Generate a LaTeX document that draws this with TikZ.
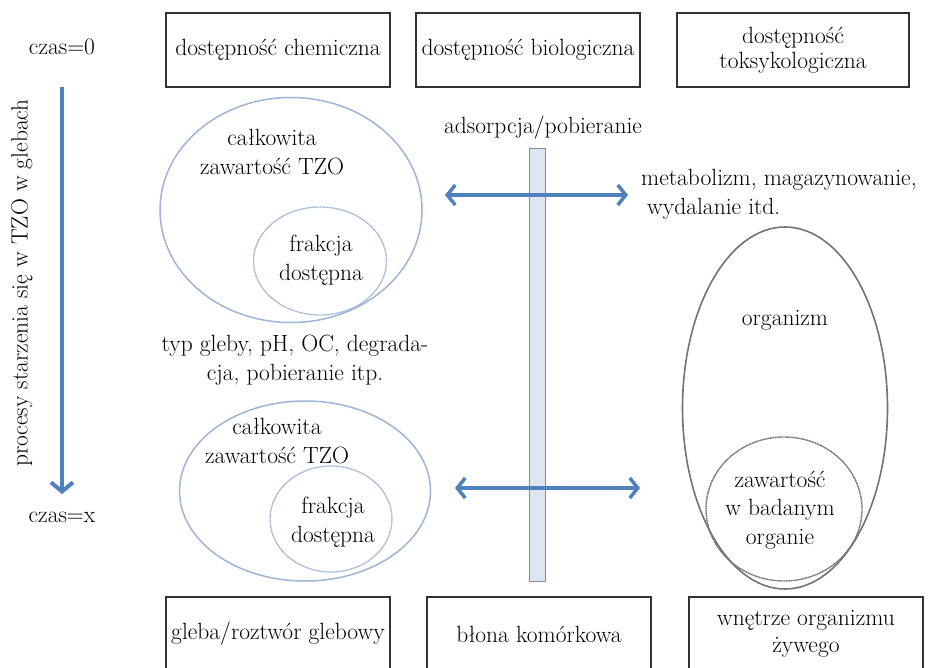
\documentclass[tikz,border=0pt]{standalone}
\usepackage{fontspec}
\usetikzlibrary{shapes.geometric,arrows.meta}
\definecolor{arrowblue}{HTML}{4F81BD}
\definecolor{ringblue}{HTML}{9DB5D6}
\definecolor{membfill}{HTML}{DDE7F4}
\definecolor{boxgray}{HTML}{333333}
\begin{document}
\begin{tikzpicture}[x=1pt,y=-1pt,
  every node/.style={font=\fontsize{23.5}{28.5}\selectfont, inner sep=1pt, align=center},
  boxstyle/.style={draw=boxgray, line width=2.6pt, minimum width=224, minimum height=74, inner sep=2pt},
  ringout/.style={ellipse, draw=ringblue, line width=1.5pt, inner sep=0pt},
  ringin/.style={ellipse, draw=ringblue, line width=1.3pt, dash pattern=on 1.2pt off 0.5pt, inner sep=0pt},
  grayout/.style={ellipse, draw=black!55, line width=1.6pt, inner sep=0pt},
  grayin/.style={ellipse, draw=black!55, line width=1.4pt, dash pattern=on 1.2pt off 0.5pt, inner sep=0pt},
  bluearrow/.style={draw=arrowblue, line width=3.5pt, {Straight Barb[length=8pt,width=20pt]}-{Straight Barb[length=8pt,width=20pt]}},
]
\useasboundingbox (0,0) rectangle (934,668);
\fill[white] (0,0) rectangle (934,668);

% top boxes
\node[boxstyle] (chem) at (278,50) {dostępność chemiczna};
\node[boxstyle] (bio) at (528,50) {dostępność biologiczna};
\node[boxstyle, minimum width=232] (tox) at (793,50) {dostępność\\[-3pt]toksykologiczna};

% bottom boxes
\node[boxstyle] (soil) at (278,634) {gleba/roztwór glebowy};
\node[boxstyle] (memb) at (539,634) {błona komórkowa};
\node[boxstyle, minimum width=234] (inside) at (806,634) {wnętrze organizmu\\[-2pt]żywego};

% time axis
\node (t0) at (62,47) {czas=0};
\node (tx) at (62,517) {czas=x};
\coordinate (ta) at (62,87);
\coordinate (tb) at (62,494);
\draw[draw=arrowblue, line width=4pt, -{Straight Barb[length=9pt,width=22pt]}] (ta) -- (tb);
\node[rotate=90] (proc) at (22,283) {procesy starzenia się w TZO w glebach};

% soil ellipses, time 0
\node[ringout, minimum width=262, minimum height=225] (e1) at (291,210) {};
\node[ringin, minimum width=133, minimum height=108] (c1) at (320,261) {};
\node (e1t) at (272,152) {całkowita\\zawartość TZO};
\node (c1t) at (321,260) {frakcja\\dostępna};

\node (aging) at (295,360) {typ gleby, pH, OC, degrada-\\cja, pobieranie itp.};

% soil ellipses, time x
\node[ringout, minimum width=251, minimum height=180] (e2) at (305,491) {};
\node[ringin, minimum width=122, minimum height=106] (c2) at (331,519) {};
\node (e2t) at (277,441) {całkowita\\zawartość TZO};
\node (c2t) at (333,522) {frakcja\\dostępna};

% membrane
\node (ads) at (543,128) {adsorpcja/pobieranie};
\node[draw=black!45, fill=membfill, line width=0.8pt, minimum width=16, minimum height=433, inner sep=0pt] (bar) at (537,364.5) {};

% exchange arrows
\coordinate (a1l) at (445,195);
\coordinate (a1r) at (628,195);
\coordinate (a2l) at (455,488);
\coordinate (a2r) at (640,488);
\draw[bluearrow] (a1l) -- (a1r);
\draw[bluearrow] (a2l) -- (a2r);

\node[anchor=west, align=left] (meta) at (640,194) {metabolizm, magazynowanie,\\\hspace{6pt}wydalanie itd.};

% organism
\node[grayout, minimum width=205, minimum height=362] (org) at (785,408) {};
\node (orgt) at (785,320) {organizm};
\node[grayin, minimum width=156, minimum height=144] (organ) at (784,509) {};
\node (organt) at (780,510) {zawartość\\w badanym\\organie};
\end{tikzpicture}
\end{document}
